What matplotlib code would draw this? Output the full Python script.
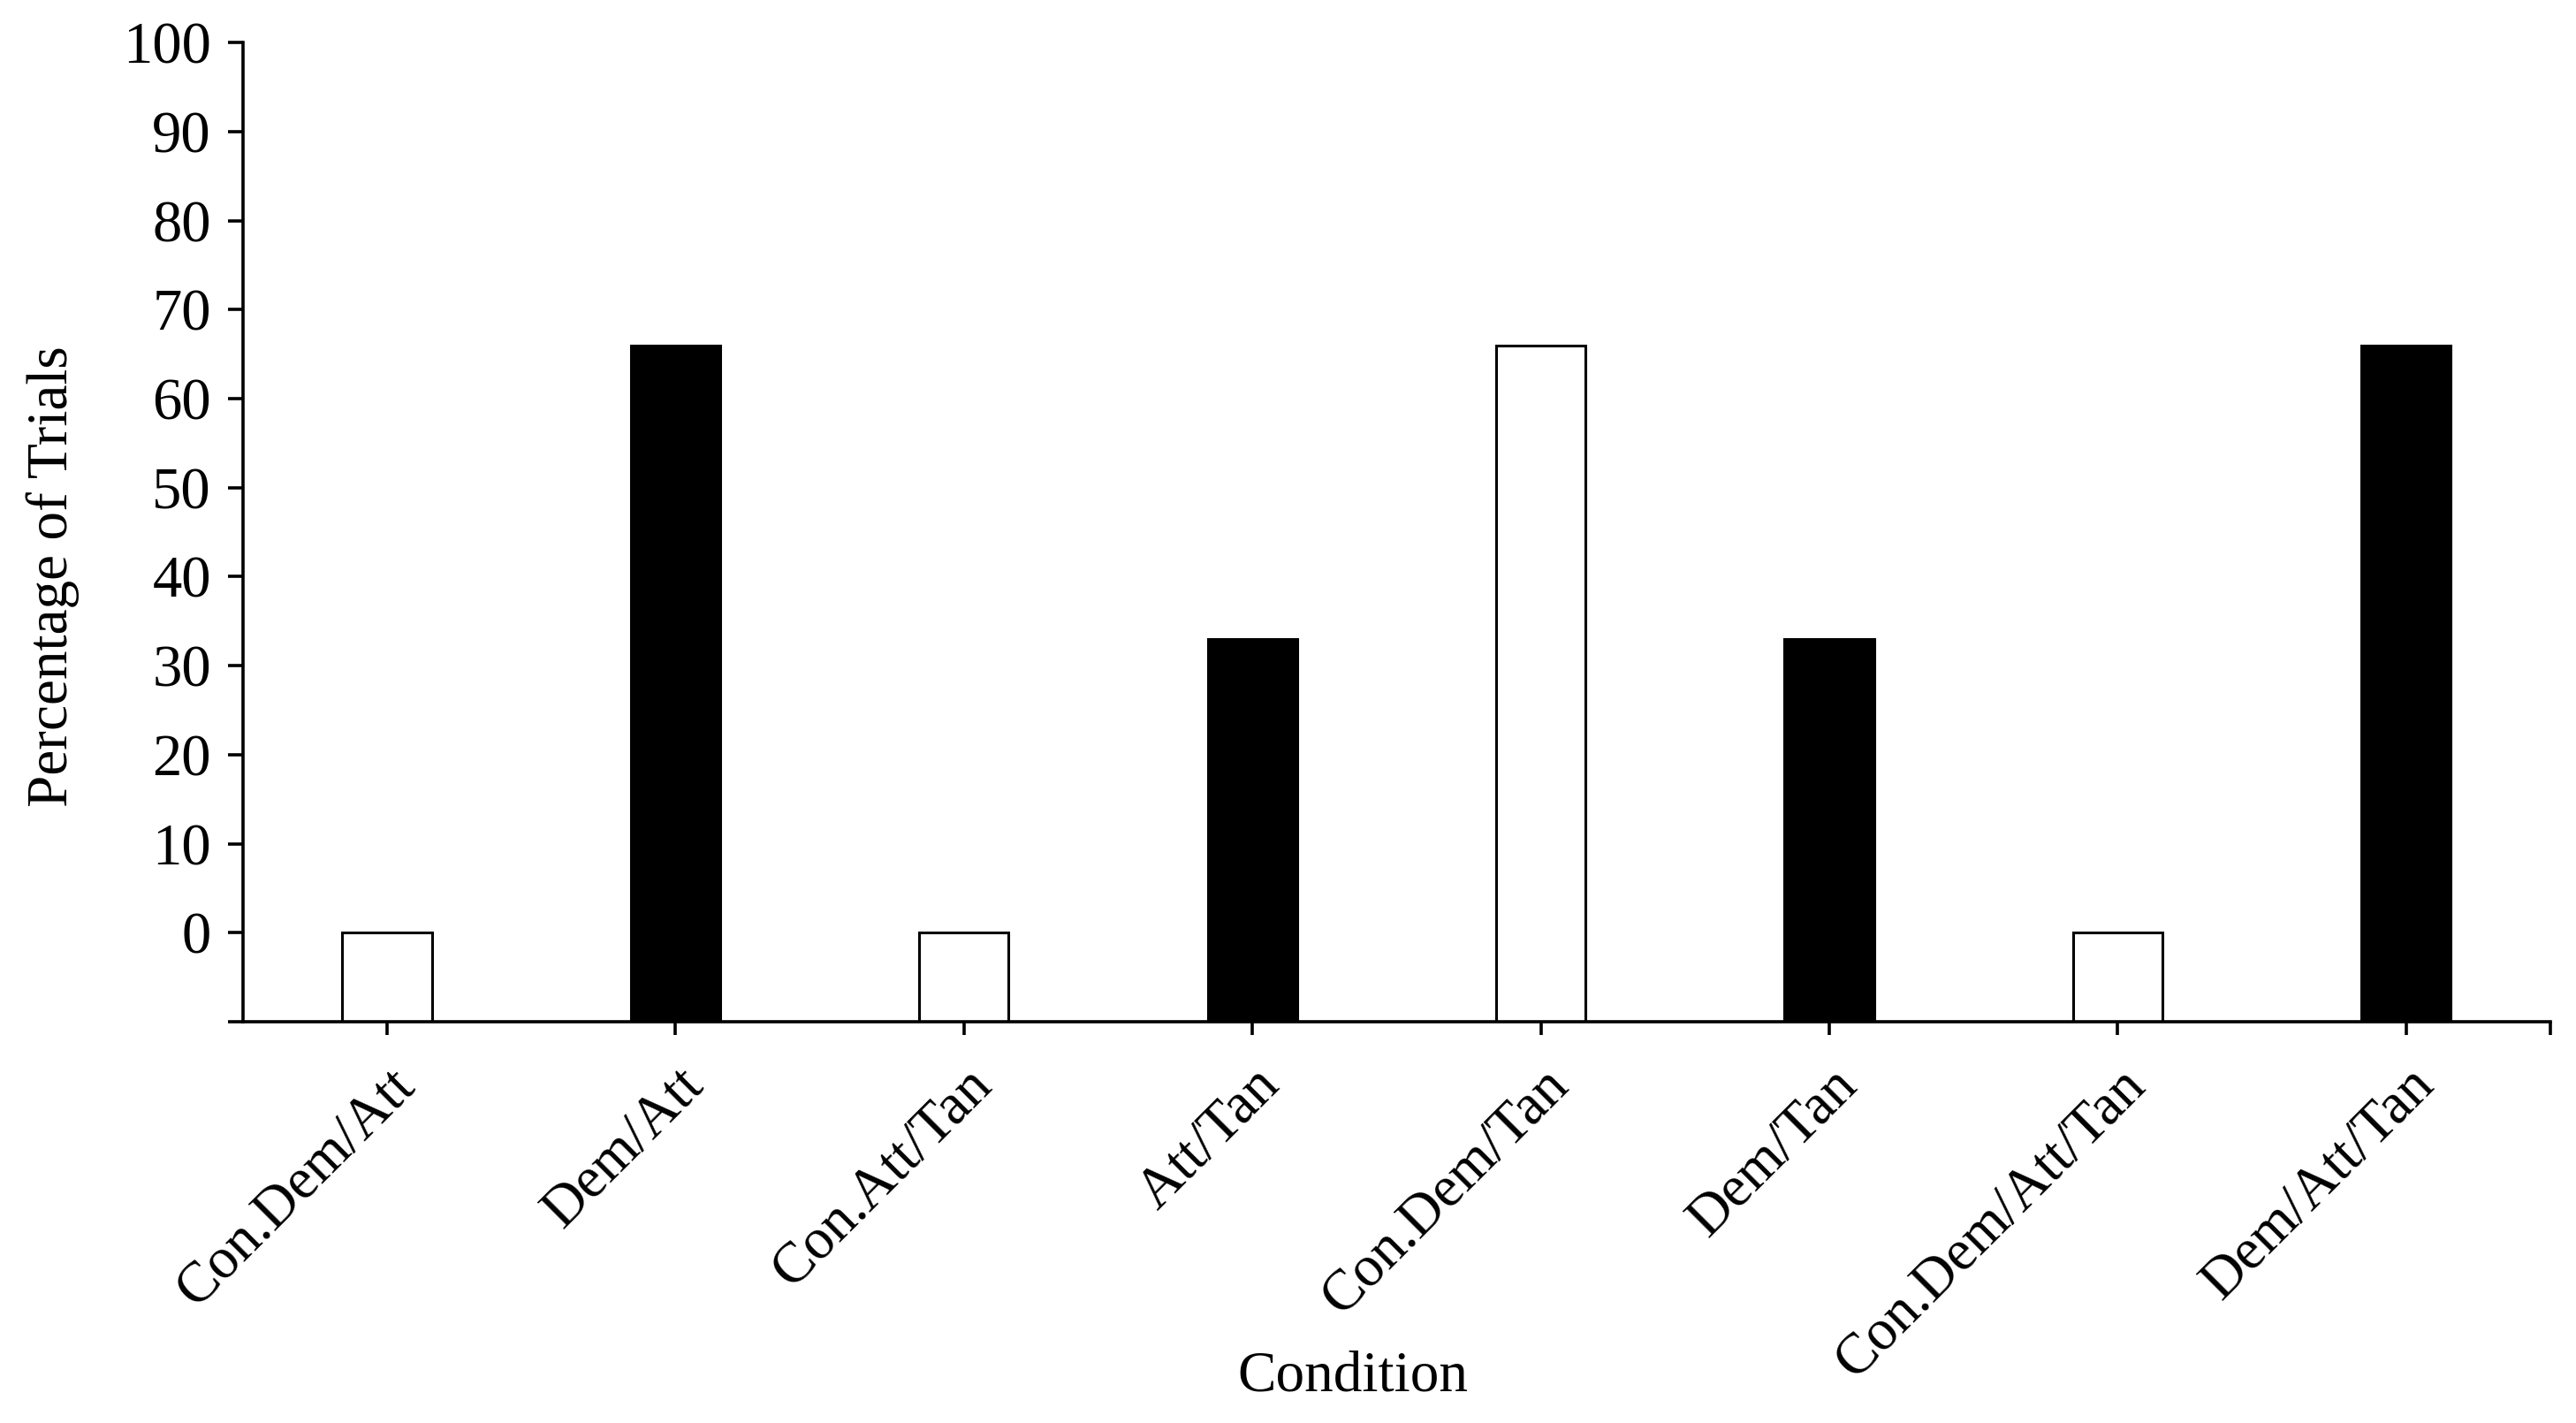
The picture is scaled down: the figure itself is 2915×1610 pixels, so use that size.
import matplotlib
matplotlib.use("Agg")
import matplotlib.pyplot as plt
import matplotlib.transforms as mtransforms
import numpy as np

conditions = ["Con.Dem/Att", "Dem/Att", "Con.Att/Tan", "Att/Tan",
              "Con.Dem/Tan", "Dem/Tan", "Con.Dem/Att/Tan", "Dem/Att/Tan"]
percent = [0, 66, 0, 33, 66, 33, 0, 66]
fills = ["white", "black", "white", "black", "white", "black", "white", "black"]
yticks = [0, 10, 20, 30, 40, 50, 60, 70, 80, 90, 100]

plt.rcParams['font.family'] = ['Liberation Serif', 'DejaVu Serif']

fig = plt.figure(figsize=(29.15, 16.10), dpi=100)
ax = fig.add_axes([0.0943, 0.282, 0.8957, 0.688])

base = -10
x = np.arange(len(conditions))
ax.bar(x, [p - base for p in percent], bottom=base, width=0.31,
       color=fills, edgecolor="black", linewidth=2.2)

ax.set_xlim(-0.5, len(conditions) - 0.5)
ax.set_ylim(base, 100)
ax.set_yticks([base] + yticks)
ax.set_yticklabels([""] + [str(t) for t in yticks])
ax.set_xticks(x)
ax.set_xticks([len(conditions) - 0.5], minor=True)

for s in ["top", "right"]:
    ax.spines[s].set_visible(False)
for s in ["left", "bottom"]:
    ax.spines[s].set_linewidth(2.6)

ax.tick_params(axis="y", direction="out", length=12, width=2.6, labelsize=48, pad=14)
ax.tick_params(axis="x", which="both", direction="out", length=11, width=2.6,
               labelsize=47, pad=30)

ax.set_xticklabels(conditions, rotation=45, ha="right", va="center",
                   rotation_mode="anchor")
offset = mtransforms.ScaledTranslation(0.22, -0.06, fig.dpi_scale_trans)
for lab in ax.get_xticklabels():
    lab.set_transform(lab.get_transform() + offset)

ax.set_ylabel("Percentage of Trials", fontsize=47)
ax.set_xlabel("Condition", fontsize=47)
ax.yaxis.set_label_coords(-0.071, 0.455)
ax.xaxis.set_label_coords(0.481, -0.336)

fig.savefig("out.png", dpi=100, facecolor="white")
